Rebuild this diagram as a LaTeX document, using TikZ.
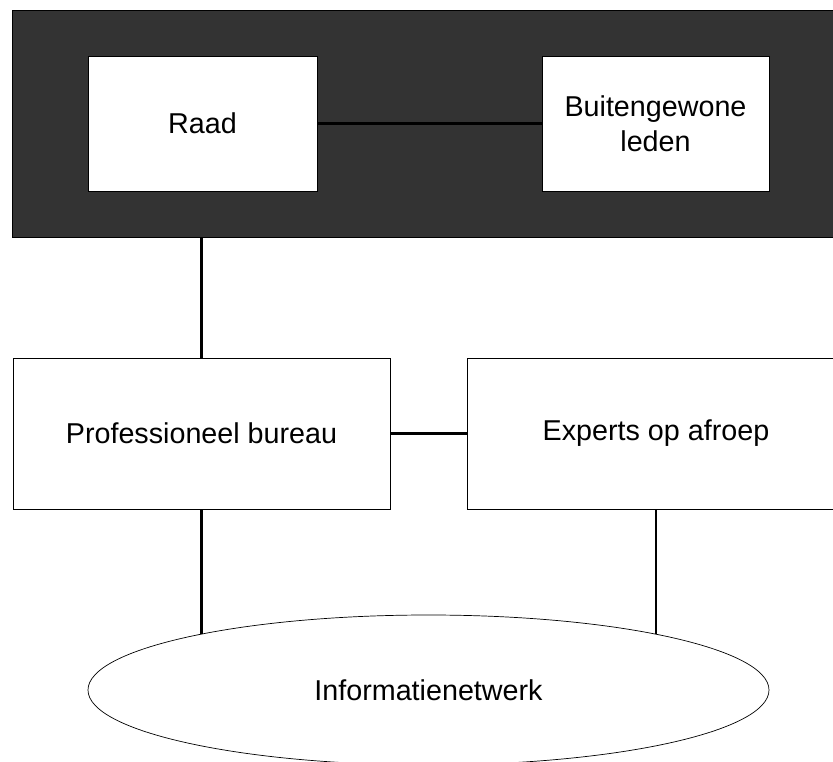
\documentclass[tikz,border=0pt]{standalone}
\usepackage{fontspec}
\setmainfont{Liberation Sans}
\usetikzlibrary{shapes.geometric}
\definecolor{panel}{HTML}{333333}
\begin{document}
\begin{tikzpicture}[x=1pt,y=-1pt,
  every node/.style={font=\fontsize{28.7}{35}\selectfont, align=center, inner sep=0pt},
  whitebox/.style={draw=black, line width=0.8pt, fill=white, rectangle},
  band/.style={draw=black, line width=0.8pt, fill=panel, rectangle},
  oval/.style={draw=black, line width=0.7pt, fill=white, ellipse},
  link/.style={draw=black, line width=2.6pt}]
  \useasboundingbox (0,0) rectangle (833,762);

  % dark band holding the council and extraordinary members
  \node[band, minimum width=838, minimum height=227] (top) at (431,123.5) {};
  \node[whitebox, minimum width=229, minimum height=135] (raad) at (202.5,123.5) {Raad};
  \node[whitebox, minimum width=227, minimum height=135] (buiten) at (655.5,123.5) {Buitengewone\\leden};

  % middle row
  \node[whitebox, minimum width=377, minimum height=151] (bureau) at (201.5,433.5) {Professioneel bureau};
  \node[whitebox, minimum width=378, minimum height=151] (experts) at (656,433.5) {Experts op afroep};

  % network at the bottom
  \node[oval, minimum width=681, minimum height=150] (net) at (428.5,690) {Informatienetwerk};

  % connectors
  \draw[link] (raad.east) -- (buiten.west);
  \draw[link] (bureau.north) -- (bureau.north |- top.south);
  \draw[link] (bureau.east) -- (experts.west);
  \draw[link] (bureau.south) -- (bureau.south |- net.166);
  \draw[link] (experts.south) -- (experts.south |- net.14);
\end{tikzpicture}
\end{document}
